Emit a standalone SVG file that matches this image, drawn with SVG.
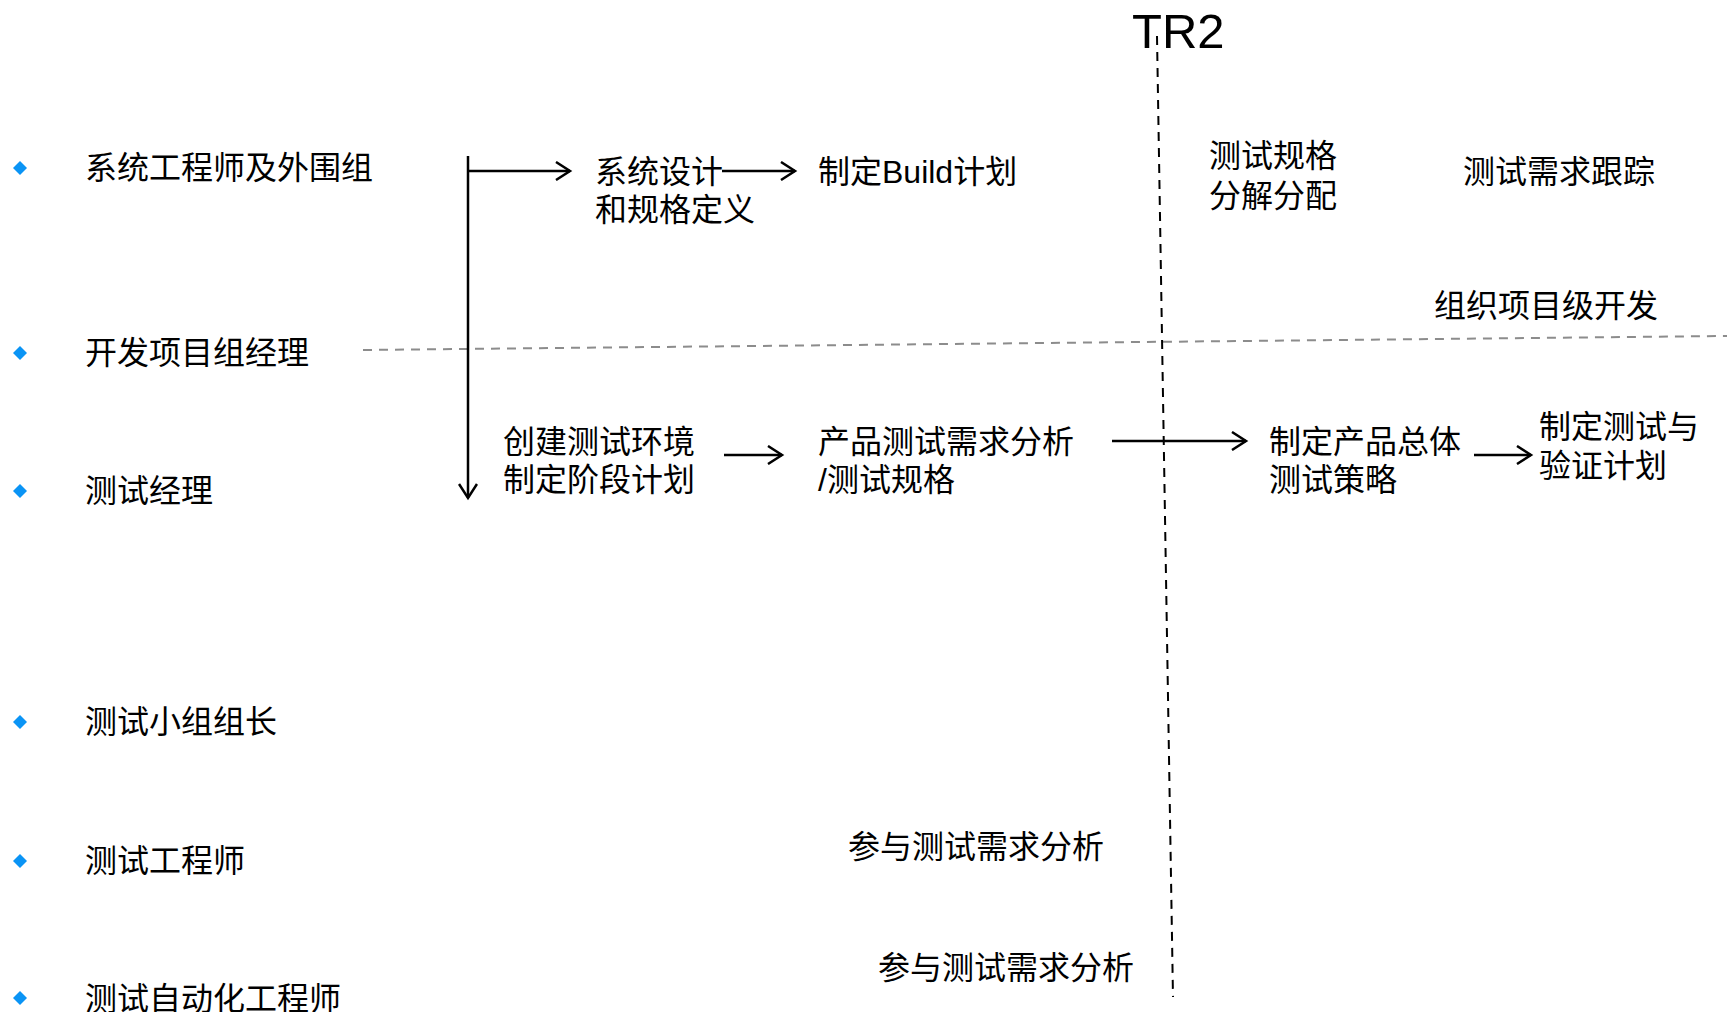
<svg xmlns="http://www.w3.org/2000/svg" width="1727" height="1012" viewBox="0 0 1727 1012">
<style>
text{font-family:"Liberation Sans","Noto Sans CJK SC",sans-serif;font-size:32px;fill:#000}
.tr{font-size:49px}
.bul{fill:#0a94f5}
.ln{stroke:#000;stroke-width:2.5;fill:none}
.dash{stroke:#000;stroke-width:2;stroke-dasharray:9 7;fill:none}
.gdash{stroke:#8c8c8c;stroke-width:2;stroke-dasharray:9 7;fill:none}
</style>
<defs>
<marker id="ah" markerWidth="20" markerHeight="20" viewBox="-16 -10 20 20" refX="0" refY="0" orient="auto" markerUnits="userSpaceOnUse">
<path d="M-14,-9 L0,0 L-14,9" fill="none" stroke="#000" stroke-width="2.5"/>
</marker>
</defs>
<rect width="1727" height="1012" fill="#fff"/>
<g id="roles">
<g id="role1"><path class="bul" d="M20,161 L27,168 L20,175 L13,168Z"/><text x="85" y="179">系统工程师及外围组</text></g>
<g id="role2"><path class="bul" d="M20,346 L27,353 L20,360 L13,353Z"/><text x="85" y="364">开发项目组经理</text></g>
<g id="role3"><path class="bul" d="M20,484 L27,491 L20,498 L13,491Z"/><text x="85" y="502">测试经理</text></g>
<g id="role4"><path class="bul" d="M20,715 L27,722 L20,729 L13,722Z"/><text x="85" y="733">测试小组组长</text></g>
<g id="role5"><path class="bul" d="M20,854 L27,861 L20,868 L13,861Z"/><text x="85" y="872">测试工程师</text></g>
<g id="role6"><path class="bul" d="M20,991 L27,998 L20,1005 L13,998Z"/><text x="85" y="1010">测试自动化工程师</text></g>
</g>
<g id="tr2"><text class="tr" x="1132" y="48">TR2</text></g>
<g id="n-sysdesign"><text x="595" y="183">系统设计</text><text x="595" y="221">和规格定义</text></g>
<g id="n-build"><text x="818" y="183">制定Build计划</text></g>
<g id="n-specsplit"><text x="1209" y="167">测试规格</text><text x="1209" y="207">分解分配</text></g>
<g id="n-track"><text x="1463" y="183">测试需求跟踪</text></g>
<g id="n-orgdev"><text x="1434" y="317">组织项目级开发</text></g>
<g id="n-env"><text x="503" y="453">创建测试环境</text><text x="503" y="491">制定阶段计划</text></g>
<g id="n-reqana"><text x="818" y="453">产品测试需求分析</text><text x="818" y="491">/测试规格</text></g>
<g id="n-strategy"><text x="1269" y="453">制定产品总体</text><text x="1269" y="491">测试策略</text></g>
<g id="n-plan"><text x="1539" y="438">制定测试与</text><text x="1539" y="477">验证计划</text></g>
<g id="n-part1"><text x="848" y="858">参与测试需求分析</text></g>
<g id="n-part2"><text x="878" y="979">参与测试需求分析</text></g>
<g id="connectors">
<path class="gdash" d="M363,350 L1727,336"/>
<path class="dash" d="M1157,36 L1173,997"/>
<path class="ln" d="M468,156 L468,498" marker-end="url(#ah)"/>
<path class="ln" d="M468,171 L570,171" marker-end="url(#ah)"/>
<path class="ln" d="M722,171 L795,171" marker-end="url(#ah)"/>
<path class="ln" d="M724,455 L782,455" marker-end="url(#ah)"/>
<path class="ln" d="M1112,441 L1246,441" marker-end="url(#ah)"/>
<path class="ln" d="M1474,455 L1531,455" marker-end="url(#ah)"/>
</g>
</svg>
